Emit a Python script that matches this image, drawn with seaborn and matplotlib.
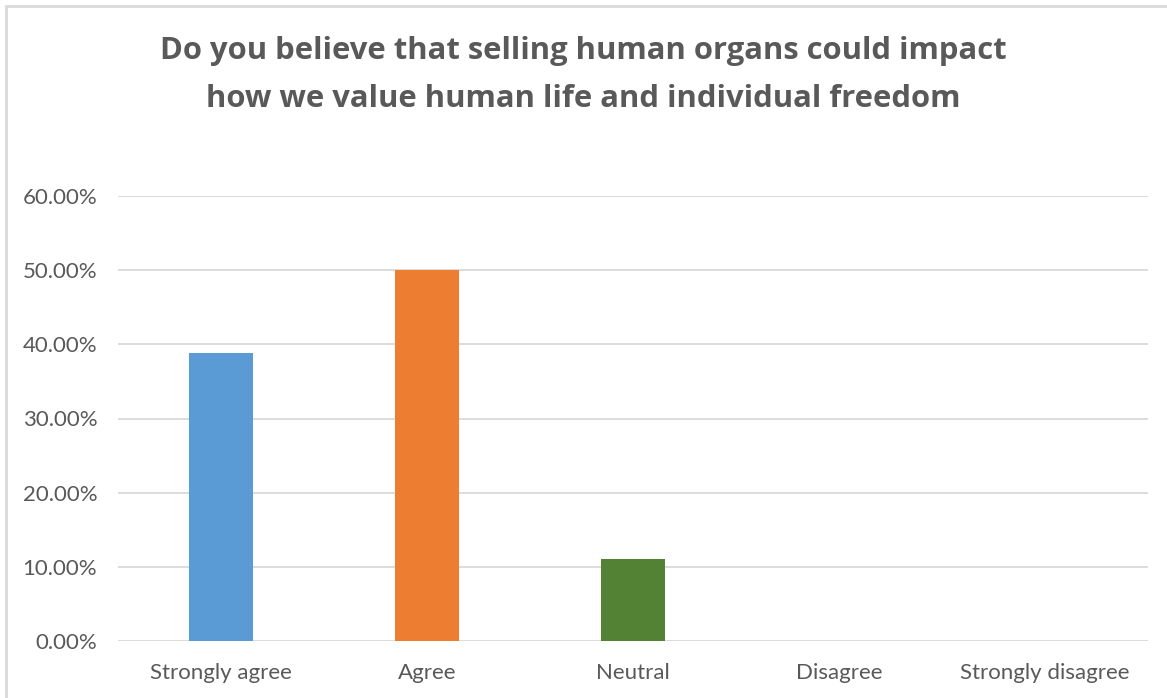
import matplotlib
matplotlib.use("Agg")
import matplotlib.pyplot as plt
import matplotlib.patches as mpatches
from matplotlib.ticker import FuncFormatter
import seaborn as sns
import pandas as pd

# data
answers = ['Strongly agree', 'Agree', 'Neutral', 'Disagree', 'Strongly disagree']
share = [0.3889, 0.50, 0.1111, 0.0, 0.0]
bar_colors = ['#5B9BD5', '#ED7D31', '#548235', '#A5A5A5', '#FFC000']
yticks = [0.0, 0.1, 0.2, 0.3, 0.4, 0.5, 0.6]

df = pd.DataFrame({'answer': answers, 'share': share})

sns.set_theme(style='white')
plt.rcParams['font.family'] = ['Lato', 'DejaVu Sans']
txt = '#595959'

fig = plt.figure(figsize=(11.67, 6.98), dpi=100)
ax = fig.add_axes([118/1167, 1 - 641/698, (1148 - 118)/1167, (641 - 196)/698])

sns.barplot(data=df, x='answer', y='share', hue='answer', palette=bar_colors,
            width=0.315, legend=False, saturation=1, linewidth=0, ax=ax)

ax.set_ylim(0, 0.6)
ax.set_yticks(yticks)
ax.yaxis.set_major_formatter(FuncFormatter(lambda v, p: '%.2f%%' % (v * 100)))
ax.grid(axis='y', color='#D9D9D9', linewidth=1.3)
ax.set_axisbelow(True)
for s in ax.spines.values():
    s.set_visible(False)
ax.tick_params(axis='both', length=0, labelsize=16, labelcolor=txt)
ax.tick_params(axis='y', pad=15)
ax.tick_params(axis='x', pad=16)
ax.set_xlabel('')
ax.set_ylabel('')

fig.text(0.5, 1 - 75/698, 'Do you believe that selling human organs could impact\nhow we value human life and individual freedom',
         ha='center', va='center', fontsize=22.3, fontweight='bold', color=txt,
         linespacing=1.78, family=['Open Sans', 'DejaVu Sans'])

# chart area border
fig.patches.append(mpatches.Rectangle((6/1167, -0.05), 1.2, 1 - 6/698 + 0.05,
                                      transform=fig.transFigure, fill=False,
                                      edgecolor='#D9D9D9', linewidth=2))

fig.savefig('out.png', dpi=100, facecolor='white')
